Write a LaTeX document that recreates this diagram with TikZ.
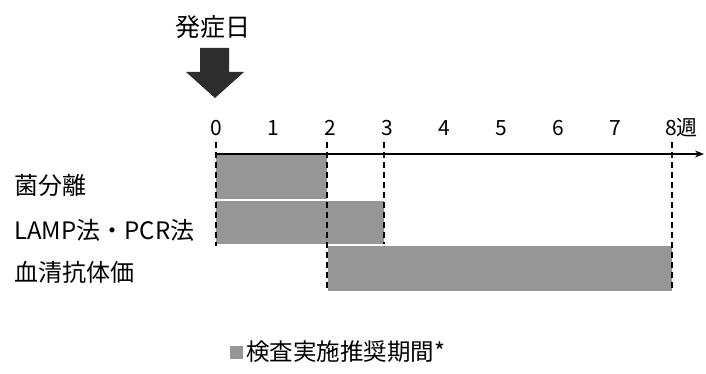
\documentclass[tikz,border=0pt]{standalone}
\usepackage{fontspec}
\setmainfont{Noto Sans CJK JP}
\usetikzlibrary{arrows.meta}
\definecolor{barfill}{RGB}{150,150,150}
\definecolor{arrowfill}{RGB}{45,45,45}
\tikzset{
  lbl/.style={anchor=west, inner sep=0pt, font=\fontsize{24}{28}\selectfont},
  leglbl/.style={anchor=west, inner sep=0pt, font=\fontsize{23.5}{28}\selectfont},
  tick/.style={inner sep=0pt, font=\fontsize{21}{24}\selectfont},
  bar/.style={fill=barfill, draw=none},
  guide/.style={line width=1.3pt, dash pattern=on 6pt off 4pt},
  axis/.style={line width=1.2pt, -{Stealth[length=9pt,width=7pt]}},
}
\begin{document}
\begin{tikzpicture}[x=1pt,y=-1pt]
\useasboundingbox (0,0) rectangle (706,374);
% onset label and block arrow
\node[inner sep=0pt, font=\fontsize{25}{28}\selectfont] (onset) at (213,27) {発症日};
\fill[arrowfill] (200,48) -- (229,48) -- (229,72) -- (244,72) -- (215,98) -- (186,72) -- (200,72) -- cycle;
% bars
\fill[bar] (216,154) rectangle (327,199);
\fill[bar] (216,201) rectangle (384,244);
\fill[bar] (328,246) rectangle (672,291);
% dashed guides
\coordinate (g0t) at (216,142); \coordinate (g0b) at (216,246);
\coordinate (g2t) at (327,142); \coordinate (g2b) at (327,291);
\coordinate (g3t) at (384,142); \coordinate (g3b) at (384,244);
\coordinate (g8t) at (672,142); \coordinate (g8b) at (672,291);
\draw[guide] (g0t) -- (g0b);
\draw[guide] (g2t) -- (g2b);
\draw[guide] (g3t) -- (g3b);
\draw[guide] (g8t) -- (g8b);
% axis
\coordinate (ax0) at (216,154);
\coordinate (ax1) at (704,154);
\draw[axis] (ax0) -- (ax1);
% tick labels
\foreach \i in {0,...,7} {
  \node[tick] (t\i) at ({216+57*\i},128) {\i};
}
\node[tick, anchor=west] (t8) at (665,128) {8週};
% row labels
\node[lbl] (r1) at (14,185) {菌分離};
\node[lbl] (r2) at (14,230) {LAMP法・PCR法};
\node[lbl] (r3) at (14,272) {血清抗体価};
% legend
\fill[bar] (230,346) rectangle (243,359);
\node[leglbl] (leg) at (246,352) {検査実施推奨期間*};
\end{tikzpicture}
\end{document}
